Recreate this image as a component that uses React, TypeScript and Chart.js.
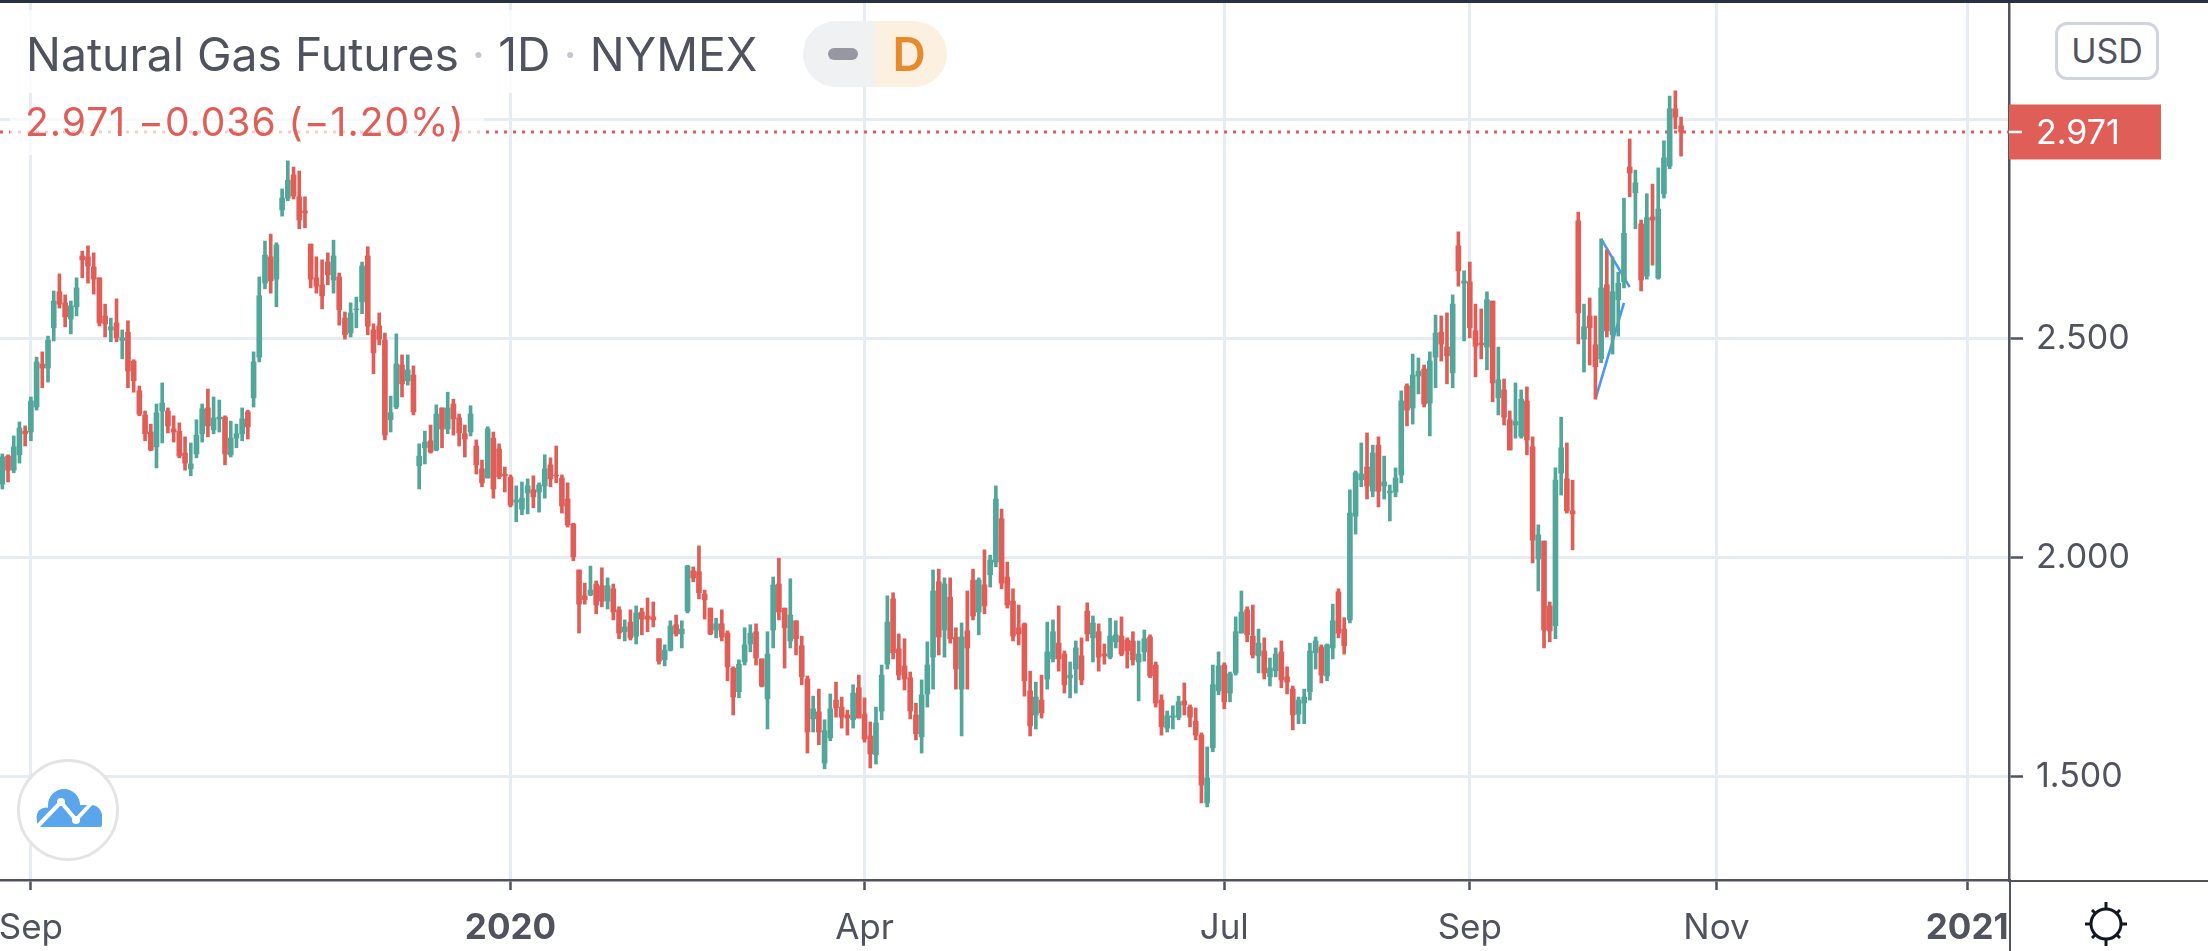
import React, { useEffect, useRef } from "react";
import { Chart, registerables } from "chart.js";

Chart.register(...registerables);

const highs = [
  2.236,2.234,2.277,2.309,2.300,2.366,2.457,2.469,2.505,2.608,
  2.647,2.599,2.585,2.638,2.699,2.711,2.695,2.638,2.578,2.546,
  2.590,2.519,2.540,2.451,2.391,2.334,2.304,2.350,2.398,2.341,
  2.323,2.307,2.275,2.261,2.314,2.350,2.384,2.366,2.359,2.323,
  2.311,2.304,2.341,2.336,2.469,2.640,2.722,2.738,2.718,2.841,
  2.905,2.891,2.882,2.823,2.715,2.686,2.679,2.695,2.724,2.649,
  2.560,2.581,2.594,2.674,2.709,2.533,2.558,2.512,2.368,2.510,
  2.462,2.462,2.437,2.259,2.288,2.302,2.348,2.341,2.377,2.361,
  2.327,2.302,2.346,2.268,2.222,2.298,2.286,2.259,2.206,2.188,
  2.163,2.172,2.179,2.186,2.170,2.234,2.227,2.254,2.188,2.170,
  2.078,1.971,1.941,1.980,1.946,1.976,1.953,1.939,1.887,1.857,
  1.880,1.889,1.884,1.907,1.898,1.814,1.800,1.855,1.868,1.855,
  1.982,1.978,2.026,1.925,1.884,1.861,1.880,1.832,1.750,1.766,
  1.839,1.846,1.848,1.768,1.830,1.955,1.998,1.884,1.951,1.855,
  1.820,1.729,1.683,1.699,1.629,1.688,1.715,1.681,1.651,1.709,
  1.731,1.679,1.624,1.658,1.754,1.912,1.919,1.825,1.814,1.738,
  1.667,1.720,1.807,1.971,1.973,1.953,1.953,1.839,1.850,1.923,
  1.973,1.953,2.017,2.005,2.163,2.110,1.989,1.928,1.891,1.850,
  1.740,1.715,1.731,1.852,1.857,1.889,1.786,1.761,1.809,1.816,
  1.896,1.866,1.848,1.802,1.861,1.855,1.864,1.816,1.830,1.809,
  1.834,1.823,1.761,1.686,1.649,1.661,1.683,1.713,1.663,1.656,
  1.599,1.567,1.754,1.784,1.759,1.738,1.864,1.923,1.887,1.891,
  1.836,1.816,1.770,1.793,1.809,1.750,1.706,1.681,1.699,1.804,
  1.818,1.800,1.802,1.893,1.928,1.862,2.154,2.197,2.261,2.284,
  2.256,2.275,2.231,2.165,2.204,2.380,2.396,2.464,2.455,2.439,
  2.469,2.553,2.551,2.558,2.599,2.743,2.654,2.674,2.578,2.567,
  2.606,2.585,2.480,2.407,2.334,2.398,2.382,2.389,2.275,2.074,
  2.037,1.898,2.204,2.320,2.261,2.176,2.788,2.578,2.592,2.551,
  2.727,2.702,2.686,2.651,2.820,2.955,2.884,2.770,2.830,2.852,
  2.889,2.951,3.053,3.065,3.005,
];

const lows = [
  2.156,2.172,2.193,2.215,2.254,2.266,2.336,2.387,2.400,2.494,
  2.569,2.526,2.510,2.551,2.638,2.626,2.601,2.528,2.503,2.492,
  2.492,2.453,2.387,2.377,2.323,2.266,2.243,2.204,2.261,2.284,
  2.263,2.227,2.199,2.186,2.227,2.263,2.275,2.282,2.286,2.211,
  2.229,2.250,2.266,2.270,2.343,2.446,2.613,2.603,2.572,2.779,
  2.814,2.818,2.750,2.752,2.615,2.603,2.567,2.622,2.603,2.530,
  2.498,2.503,2.524,2.556,2.508,2.419,2.485,2.268,2.286,2.339,
  2.366,2.393,2.325,2.156,2.213,2.238,2.243,2.250,2.282,2.279,
  2.254,2.229,2.277,2.190,2.161,2.181,2.135,2.179,2.149,2.115,
  2.081,2.097,2.099,2.113,2.103,2.135,2.161,2.170,2.101,2.069,
  1.992,1.827,1.893,1.912,1.871,1.887,1.882,1.857,1.814,1.809,
  1.811,1.802,1.823,1.830,1.841,1.756,1.752,1.786,1.820,1.793,
  1.873,1.944,1.905,1.859,1.823,1.816,1.809,1.718,1.640,1.679,
  1.754,1.784,1.754,1.704,1.608,1.793,1.857,1.747,1.793,1.777,
  1.709,1.553,1.601,1.572,1.517,1.581,1.635,1.610,1.594,1.610,
  1.633,1.578,1.519,1.528,1.629,1.745,1.768,1.720,1.697,1.631,
  1.583,1.553,1.658,1.699,1.777,1.772,1.804,1.699,1.592,1.699,
  1.857,1.823,1.871,1.932,1.978,1.928,1.884,1.809,1.800,1.683,
  1.592,1.608,1.633,1.699,1.761,1.740,1.690,1.679,1.690,1.709,
  1.809,1.761,1.740,1.756,1.768,1.793,1.775,1.747,1.754,1.672,
  1.763,1.725,1.658,1.594,1.601,1.608,1.629,1.640,1.613,1.583,
  1.439,1.430,1.556,1.686,1.654,1.670,1.731,1.827,1.807,1.770,
  1.736,1.722,1.706,1.727,1.702,1.688,1.606,1.620,1.620,1.674,
  1.745,1.713,1.718,1.768,1.816,1.779,1.850,2.053,2.161,2.133,
  2.138,2.115,2.133,2.083,2.138,2.170,2.300,2.304,2.373,2.343,
  2.277,2.387,2.448,2.396,2.387,2.619,2.494,2.501,2.412,2.453,
  2.428,2.355,2.325,2.302,2.245,2.272,2.272,2.234,1.987,1.923,
  1.793,1.807,1.814,2.142,2.101,2.017,2.487,2.423,2.439,2.361,
  2.444,2.503,2.464,2.505,2.615,2.823,2.750,2.608,2.635,2.667,
  2.635,2.820,2.887,2.978,2.916,
];

const opens = [
  2.167,2.231,2.199,2.234,2.288,2.286,2.343,2.441,2.432,2.524,
  2.606,2.581,2.544,2.572,2.688,2.686,2.663,2.638,2.551,2.519,
  2.535,2.495,2.514,2.448,2.380,2.325,2.286,2.252,2.334,2.334,
  2.293,2.288,2.238,2.202,2.236,2.282,2.341,2.291,2.316,2.320,
  2.234,2.272,2.282,2.332,2.364,2.457,2.626,2.686,2.635,2.793,
  2.820,2.873,2.823,2.791,2.715,2.638,2.622,2.674,2.633,2.640,
  2.546,2.512,2.565,2.583,2.688,2.519,2.528,2.496,2.314,2.343,
  2.439,2.403,2.416,2.209,2.250,2.266,2.245,2.341,2.293,2.350,
  2.318,2.282,2.286,2.254,2.202,2.181,2.272,2.247,2.190,2.183,
  2.126,2.110,2.147,2.154,2.149,2.163,2.211,2.188,2.181,2.133,
  2.076,1.971,1.912,1.914,1.939,1.935,1.900,1.928,1.880,1.830,
  1.852,1.820,1.875,1.866,1.864,1.814,1.766,1.788,1.846,1.825,
  1.877,1.969,1.967,1.916,1.884,1.834,1.848,1.827,1.747,1.693,
  1.761,1.802,1.830,1.768,1.677,1.834,1.939,1.884,1.809,1.855,
  1.798,1.722,1.631,1.647,1.530,1.588,1.674,1.658,1.640,1.629,
  1.702,1.642,1.592,1.549,1.649,1.756,1.905,1.791,1.752,1.725,
  1.640,1.590,1.688,1.772,1.944,1.834,1.909,1.818,1.699,1.832,
  1.948,1.875,1.937,1.960,1.989,2.088,1.955,1.900,1.839,1.848,
  1.695,1.640,1.674,1.722,1.768,1.804,1.779,1.725,1.745,1.775,
  1.877,1.816,1.830,1.779,1.772,1.807,1.820,1.811,1.809,1.761,
  1.784,1.818,1.754,1.674,1.610,1.635,1.635,1.672,1.658,1.626,
  1.594,1.439,1.565,1.695,1.754,1.690,1.736,1.827,1.880,1.820,
  1.775,1.786,1.727,1.741,1.784,1.727,1.699,1.642,1.667,1.693,
  1.782,1.795,1.729,1.793,1.921,1.836,1.857,2.094,2.177,2.206,
  2.151,2.256,2.163,2.147,2.149,2.188,2.391,2.341,2.414,2.430,
  2.352,2.457,2.514,2.480,2.421,2.711,2.626,2.629,2.517,2.489,
  2.480,2.585,2.364,2.382,2.314,2.302,2.276,2.357,2.252,1.996,
  2.037,1.889,1.844,2.192,2.179,2.106,2.768,2.498,2.551,2.485,
  2.453,2.622,2.508,2.588,2.629,2.891,2.832,2.761,2.642,2.777,
  2.638,2.830,2.893,3.024,2.985,
];

const closes = [
  2.229,2.199,2.252,2.295,2.282,2.357,2.446,2.432,2.496,2.585,
  2.578,2.549,2.574,2.615,2.679,2.665,2.635,2.535,2.533,2.526,
  2.501,2.501,2.425,2.403,2.327,2.282,2.245,2.330,2.352,2.300,
  2.286,2.231,2.215,2.213,2.279,2.339,2.300,2.318,2.320,2.236,
  2.272,2.282,2.316,2.298,2.446,2.597,2.690,2.631,2.713,2.820,
  2.861,2.825,2.770,2.786,2.635,2.619,2.597,2.645,2.688,2.565,
  2.508,2.558,2.567,2.665,2.528,2.467,2.498,2.279,2.330,2.441,
  2.396,2.428,2.332,2.231,2.263,2.240,2.327,2.293,2.341,2.316,
  2.284,2.270,2.327,2.211,2.170,2.293,2.156,2.184,2.186,2.119,
  2.131,2.135,2.163,2.138,2.165,2.202,2.179,2.186,2.117,2.074,
  2.001,1.893,1.903,1.925,1.891,1.900,1.935,1.875,1.827,1.841,
  1.816,1.873,1.859,1.859,1.857,1.763,1.788,1.843,1.825,1.836,
  1.980,1.953,1.919,1.903,1.825,1.848,1.818,1.750,1.681,1.756,
  1.800,1.827,1.770,1.706,1.779,1.937,1.875,1.839,1.868,1.814,
  1.727,1.601,1.654,1.601,1.604,1.654,1.656,1.635,1.633,1.690,
  1.633,1.585,1.551,1.622,1.731,1.852,1.782,1.731,1.722,1.649,
  1.597,1.686,1.754,1.923,1.818,1.939,1.814,1.745,1.818,1.793,
  1.866,1.948,1.889,1.994,2.133,1.941,1.891,1.820,1.825,1.718,
  1.615,1.681,1.645,1.784,1.830,1.768,1.709,1.731,1.793,1.720,
  1.825,1.850,1.772,1.775,1.820,1.823,1.779,1.786,1.766,1.779,
  1.814,1.729,1.667,1.613,1.638,1.638,1.670,1.663,1.635,1.594,
  1.480,1.496,1.709,1.752,1.670,1.734,1.830,1.875,1.823,1.777,
  1.804,1.736,1.747,1.779,1.720,1.715,1.640,1.674,1.681,1.786,
  1.809,1.731,1.800,1.855,1.827,1.798,2.101,2.193,2.190,2.163,
  2.238,2.151,2.172,2.151,2.181,2.357,2.336,2.416,2.425,2.350,
  2.448,2.512,2.487,2.460,2.578,2.654,2.631,2.524,2.482,2.485,
  2.588,2.398,2.405,2.320,2.245,2.310,2.361,2.268,2.039,2.051,
  1.834,1.832,2.176,2.250,2.106,2.099,2.558,2.526,2.524,2.435,
  2.615,2.517,2.606,2.626,2.740,2.877,2.855,2.633,2.775,2.770,
  2.795,2.912,3.024,3.005,2.971,
];

const xTickValues = [5, 89, 151, 214, 257, 300.2, 344.1];
const xTickLabels = ["Sep", "2020", "Apr", "Jul", "Sep", "Nov", "2021"];
const yTickValues = [1.5, 2, 2.5, 3];
const lastPrice = 2.971;
const lastPriceLabel = "2.971";
const trendLineA = [{ x: 279, y: 2.361 }, { x: 284, y: 2.581 }];
const trendLineB = [{ x: 280, y: 2.727 }, { x: 285, y: 2.617 }];
const xRange = [-0.408, 351.43];
const yRange = [1.2632, 3.2655];

const UP = "#53a69a";
const DOWN = "#df5e58";
const GRID = "#e6ecf2";
const AXIS = "#50535e";
const FONT = "Inter, 'Noto Sans', sans-serif";

const priceTag = {
  id: "priceTag",
  afterDraw(chart: any) {
    const { ctx, scales } = chart;
    const y = scales.y.getPixelForValue(lastPrice);
    const left = scales.y.left;
    ctx.save();
    ctx.fillStyle = DOWN;
    ctx.fillRect(left, y - 27.5, 152, 55);
    ctx.fillStyle = "#ffffff";
    ctx.fillRect(left, y - 1.25, 13, 2.5);
    ctx.font = `400 34px ${FONT}`;
    ctx.textBaseline = "middle";
    ctx.textAlign = "left";
    ctx.fillText(lastPriceLabel, left + 27, y + 2);
    ctx.restore();
  },
};

const box = (s: React.CSSProperties): React.CSSProperties => ({ position: "absolute", ...s });

export default function App() {
  const ref = useRef<HTMLCanvasElement>(null);

  useEffect(() => {
    document.body.style.margin = "0";
    const idx = highs.map((_, i) => i);
    const colors = idx.map((i) => (closes[i] >= opens[i] ? UP : DOWN));
    const chart = new Chart(ref.current as HTMLCanvasElement, {
      type: "bar",
      data: {
        datasets: [
          {
            type: "line",
            data: [{ x: xRange[0], y: lastPrice }, { x: xRange[1], y: lastPrice }],
            borderColor: DOWN,
            borderWidth: 3,
            borderDash: [3, 6],
            pointRadius: 0,
            order: 5,
          },
          { type: "line", data: trendLineA, borderColor: "#4c97f1", borderWidth: 2.6, pointRadius: 0, order: 4 },
          { type: "line", data: trendLineB, borderColor: "#4c97f1", borderWidth: 2.6, pointRadius: 0, order: 4 },
          {
            data: idx.map((i) => ({ x: i, y: [lows[i], highs[i]] })),
            backgroundColor: colors,
            barThickness: 3,
            grouped: false,
            order: 3,
          },
          {
            data: idx.map((i) => ({ x: i, y: [opens[i], closes[i]] })),
            backgroundColor: colors,
            barThickness: 5,
            grouped: false,
            order: 2,
          },
        ] as any,
      },
      options: {
        responsive: false,
        animation: false,
        layout: { padding: { top: 3, left: 0, right: 0, bottom: 0 } },
        plugins: { legend: { display: false }, tooltip: { enabled: false } },
        scales: {
          x: {
            type: "linear",
            offset: false,
            min: xRange[0],
            max: xRange[1],
            afterBuildTicks: (s: any) => {
              s.ticks = xTickValues.map((value) => ({ value }));
            },
            afterFit: (s: any) => {
              s.height = 71;
              s.paddingLeft = 0;
              s.paddingRight = 0;
            },
            grid: {
              offset: false,
              color: GRID,
              lineWidth: 3,
              tickColor: AXIS,
              tickWidth: 2.5,
              tickLength: 10,
            },
            border: { color: AXIS, width: 2.5 },
            ticks: {
              autoSkip: false,
              maxRotation: 0,
              minRotation: 0,
              padding: 17,
              color: AXIS,
              callback: (v: any) => {
                const k = xTickValues.indexOf(Number(v));
                return k >= 0 ? xTickLabels[k] : "";
              },
              font: (c: any) => ({
                family: FONT,
                size: 35,
                weight: c.tick && (c.tick.value === xTickValues[1] || c.tick.value === xTickValues[6]) ? "700" : "400",
              }),
            },
          },
          y: {
            position: "right",
            min: yRange[0],
            max: yRange[1],
            afterBuildTicks: (s: any) => {
              s.ticks = yTickValues.map((value) => ({ value }));
            },
            afterFit: (s: any) => {
              s.width = 199;
              s.paddingTop = 0;
              s.paddingBottom = 0;
            },
            grid: {
              color: GRID,
              lineWidth: 3,
              tickColor: AXIS,
              tickWidth: 2.5,
              tickLength: 14,
            },
            border: { color: AXIS, width: 2.5 },
            ticks: {
              padding: 13,
              color: AXIS,
              font: { family: FONT, size: 34 },
              callback: (v: any) => (Number(v) === 3 ? "" : Number(v).toFixed(3)),
            },
          },
        },
      } as any,
      plugins: [priceTag],
    });
    return () => chart.destroy();
  }, []);

  return (
    <div style={{ position: "relative", width: 2208, height: 951, overflow: "hidden", background: "#fff", fontFamily: FONT }}>
      <canvas ref={ref} width={2208} height={951} style={{ display: "block", width: 2208, height: 951 }} />
      <div style={box({ left: 0, top: 0, width: 2208, height: 3, background: "#2b3040" })} />
      <div style={box({ left: 10, top: 10, width: 790, height: 83, background: "rgba(255,255,255,0.8)" })} />
      <div style={box({ left: 10, top: 110, width: 474, height: 45, background: "rgba(255,255,255,0.7)" })} />
      <div style={box({ left: 26, top: 27, fontSize: 46.3, lineHeight: "54px", color: AXIS, whiteSpace: "nowrap" })}>
        Natural Gas Futures <span style={{ color: "#c3c6cc" }}>·</span> 1D <span style={{ color: "#c3c6cc" }}>·</span> NYMEX
      </div>
      <div style={box({ left: 25, top: 100, fontSize: 39, lineHeight: "44px", letterSpacing: 1, color: DOWN, whiteSpace: "nowrap" })}>
        2.971 −0.036 (−1.20%)
      </div>
      <div style={box({ left: 803, top: 21, width: 72, height: 66, background: "#eff1f2", borderRadius: "33px 0 0 33px" })} />
      <div style={box({ left: 875, top: 21, width: 72, height: 66, background: "#fcf1e0", borderRadius: "0 33px 33px 0" })} />
      <div style={box({ left: 828, top: 48, width: 30, height: 12, background: "#9598a1", borderRadius: 6 })} />
      <div style={box({ left: 879, top: 21, width: 60, height: 66, lineHeight: "66px", textAlign: "center", fontSize: 46, fontWeight: 600, color: "#e8892e" })}>
        D
      </div>
      <div style={box({ left: 2055, top: 22, width: 104, height: 58, boxSizing: "border-box", border: "3px solid #d1d4dc", borderRadius: 12, textAlign: "center", lineHeight: "52px", fontSize: 34, color: AXIS, background: "#fff" })}>
        USD
      </div>
      <svg width={110} height={110} style={box({ left: 13, top: 755 })} viewBox="13 755 110 110">
        <circle cx={68} cy={810} r={49.5} fill="#fff" stroke="#e4e4e4" strokeWidth={3} />
        <g fill="#5aa5ec">
          <circle cx={64} cy={805} r={16} />
          <circle cx={46} cy={817} r={9.5} />
          <circle cx={91} cy={816} r={11} />
          <rect x={37} y={814} width={65} height={13} rx={2} />
          <rect x={48} y={805} width={42} height={12} />
        </g>
        <polyline points="36,828 61,802 76,820 96,798" fill="none" stroke="#fff" strokeWidth={4} strokeLinejoin="round" />
        <circle cx={61} cy={802} r={4} fill="#fff" />
        <circle cx={76} cy={820} r={4} fill="#fff" />
      </svg>
      <div style={box({ left: 2009, top: 880, width: 199, height: 71, boxSizing: "border-box", background: "#fff", borderLeft: `2.5px solid ${AXIS}`, borderTop: `2.5px solid ${AXIS}` })} />
      <svg width={50} height={50} style={box({ left: 2081, top: 899 })} viewBox="-25 -25 50 50">
        <circle r={15} fill="none" stroke="#131722" strokeWidth={3} />
        <g stroke="#131722" strokeWidth={3}>
          <line x1={0} y1={-22} x2={0} y2={-15} />
          <line x1={0} y1={15} x2={0} y2={22} />
          <line x1={-21} y1={0} x2={-15} y2={0} />
          <line x1={15} y1={0} x2={21} y2={0} />
          <line x1={-14} y1={-14} x2={-10.5} y2={-10.5} />
          <line x1={14} y1={-14} x2={10.5} y2={-10.5} />
          <line x1={-14} y1={14} x2={-10.5} y2={10.5} />
          <line x1={14} y1={14} x2={10.5} y2={10.5} />
        </g>
      </svg>
    </div>
  );
}
